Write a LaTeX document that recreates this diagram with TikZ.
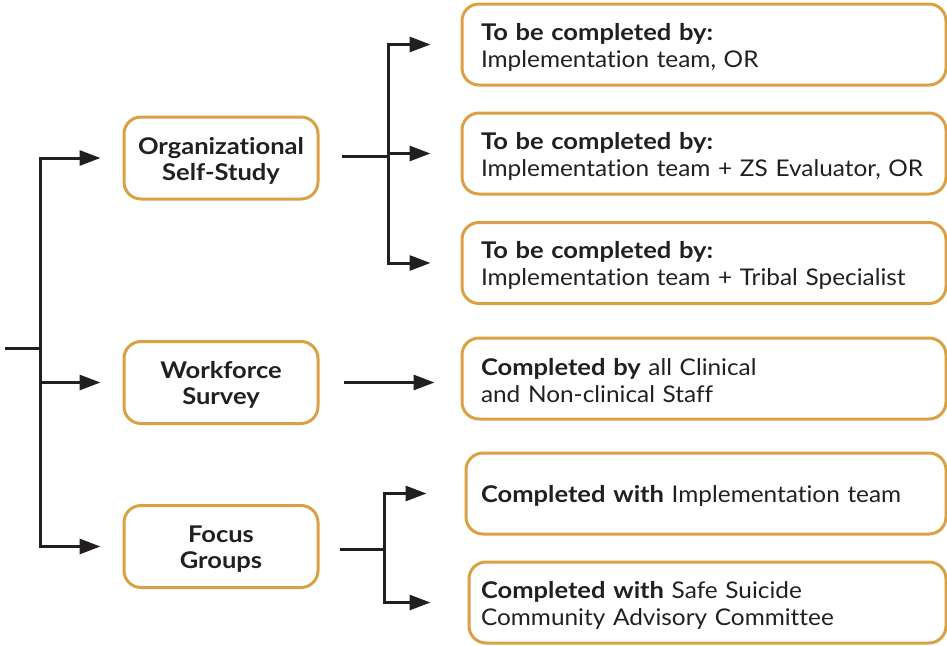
\documentclass[tikz,border=0pt]{standalone}
\usepackage{fontspec}
\setmainfont{Lato}[Ligatures={NoCommon}, FakeStretch=1.06, BoldFeatures={FakeStretch=1.11}]
\usetikzlibrary{arrows.meta}
\definecolor{gold}{HTML}{D9A143}
\definecolor{ink}{HTML}{231F20}
\newcommand{\lift}{\rule{0pt}{22pt}}
\tikzset{
  box/.style={draw=gold, line width=3pt, rounded corners=17pt, text=ink,
    font=\fontsize{23}{27}\selectfont, inner ysep=0pt},
  lbox/.style={box, minimum width=194pt, minimum height=82pt, align=center, inner xsep=0pt,
    font=\fontsize{23}{26}\selectfont\bfseries},
  rbox/.style={box, minimum height=81pt, align=left},
  conn/.style={draw=ink, line width=3pt},
  arr/.style={conn, -{Triangle[length=21pt,width=15pt]}},
}
\begin{document}
\begin{tikzpicture}[x=1pt,y=-1pt]
\useasboundingbox (0,0) rectangle (947,645);
% left boxes
\node[lbox] (org) at (221,158) {\lift Organizational\\Self-Study};
\node[lbox] (wf) at (221,382.5) {\lift Workforce\\Survey};
\node[lbox] (fg) at (221,546.5) {\lift Focus\\Groups};
% right boxes
\node[rbox, inner xsep=19pt, text width=446pt] (r1) at (704,44.5)
  {\lift\textbf{To be completed by:}\\Implementation team, OR};
\node[rbox, inner xsep=19pt, text width=446pt] (r2) at (704,153.5)
  {\lift\textbf{To be completed by:}\\Implementation team + ZS Evaluator, OR};
\node[rbox, inner xsep=19pt, text width=446pt] (r3) at (704,263)
  {\lift\textbf{To be completed by:}\\Implementation team + Tribal Specialist};
\node[rbox, inner xsep=19pt, text width=446pt] (r4) at (704,378.5)
  {\lift\textbf{Completed by} all Clinical\\and Non-clinical Staff};
\node[rbox, inner xsep=15pt, text width=450pt] (r5) at (706,493.5)
  {\lift\textbf{Completed with} Implementation team};
\node[rbox, inner xsep=12pt, text width=453pt] (r6) at (707.5,602.5)
  {\lift\textbf{Completed with} Safe Suicide\\Community Advisory Committee};
% junctions
\coordinate (root) at (5,348);
\coordinate (j0) at (40,348);
\coordinate (j1) at (388,156);
\coordinate (j2) at (384,549);
% connectors
\draw[conn] (root) -- (j0);
\draw[arr, shorten >=22pt] (j0) |- (org);
\draw[arr, shorten >=22pt] (j0) |- (wf);
\draw[arr, shorten >=22pt] (j0) |- (fg);
\draw[conn, shorten <=22pt] (org.east |- j1) -- (j1);
\draw[arr, shorten >=30pt] (j1) |- (r1);
\draw[arr, shorten >=30pt] (j1) |- (r2);
\draw[arr, shorten >=30pt] (j1) |- (r3);
\draw[arr, shorten <=24pt, shorten >=26pt] (wf.east) -- (wf.east -| r4.west);
\draw[conn, shorten <=20pt] (fg.east |- j2) -- (j2);
\draw[arr, shorten >=38pt] (j2) |- (r5);
\draw[arr, shorten >=37pt] (j2) |- (r6);
\end{tikzpicture}
\end{document}
